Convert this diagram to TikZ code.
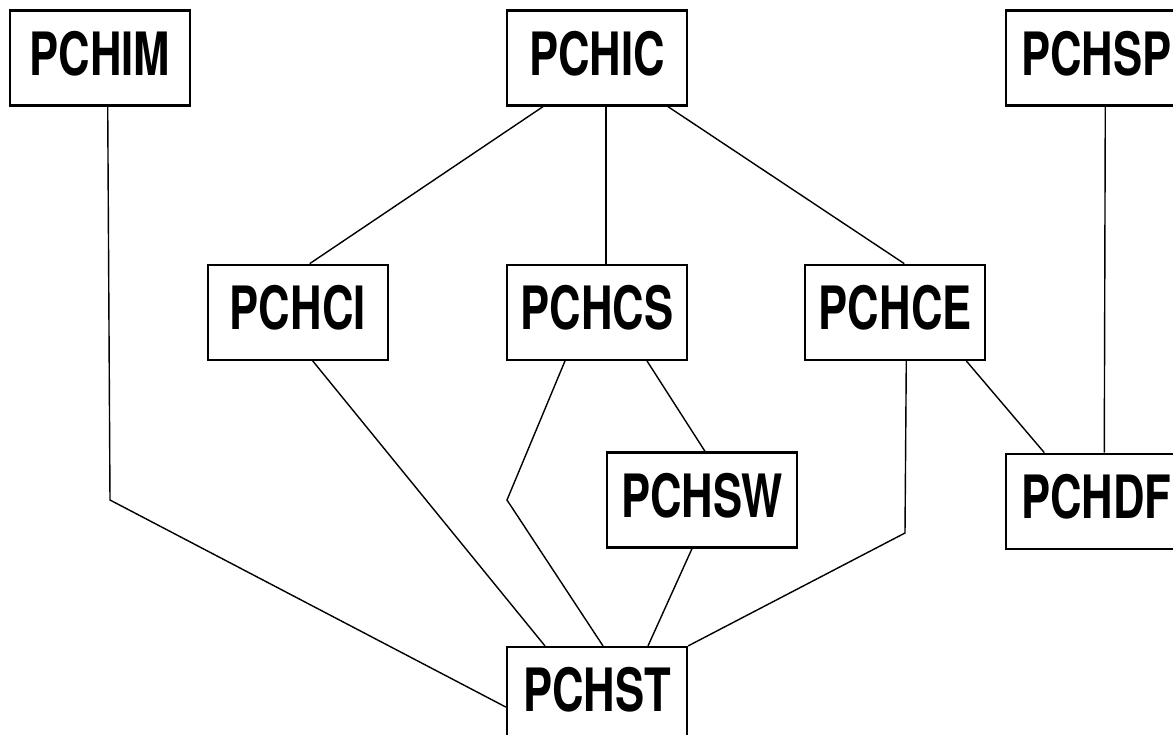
\documentclass[tikz,border=0pt]{standalone}
\usepackage{fontspec}
\setmainfont{TeX Gyre Heros}[FakeStretch=0.73]
\usepackage{tikz}
\usetikzlibrary{positioning}

\begin{document}
\begin{tikzpicture}[node distance=2.3cm,
  module/.style={draw,line width=1.3pt,minimum width=3.6cm,minimum height=1.9cm,
    inner sep=0pt,text depth=0.2cm,font=\fontsize{34}{36}\selectfont\bfseries},
  link/.style={line width=0.8pt}]
 \useasboundingbox (0,0) rectangle (23.46,-14.7);
 \node[module] (PCHIC) at (11.94,-1.16) {PCHIC};
 \node[module] (PCHIM) [left=6.3cm of PCHIC] {PCHIM};
 \node[module] (PCHSP) [right=6.34cm of PCHIC] {PCHSP};

 \node[module] (PCHCS) [below=3.14cm of PCHIC] {PCHCS};
 \node[module] (PCHCI) [left=2.34cm of PCHCS] {PCHCI};
 \node[module] (PCHCE) [right=2.32cm of PCHCS] {PCHCE};

 \node[module,minimum width=3.8cm] (PCHSW) at (14.04,-10.0) {PCHSW};
 \node[module] (PCHDF) [below=6.92cm of PCHSP] {PCHDF};

 \node[module] (PCHST) [below=5.7cm of PCHCS] {PCHST};

 \coordinate (imbend) at (2.2,-10.0);
 \coordinate (csbend) at (10.14,-10.0);
 \coordinate (cebend) at (18.1,-10.66);

 \draw[link] ([xshift=0.16cm]PCHIM.south) -- (imbend) -- ([yshift=-0.25cm]PCHST.west);
 \draw[link] ([xshift=-1.08cm]PCHIC.south) -- ([xshift=0.24cm]PCHCI.north);
 \draw[link] ([xshift=0.18cm]PCHIC.south) -- ([xshift=0.18cm]PCHCS.north);
 \draw[link] ([xshift=1.42cm]PCHIC.south) -- ([xshift=0.18cm]PCHCE.north);
 \draw[link] ([xshift=0.3cm]PCHCI.south) -- ([xshift=-1.04cm]PCHST.north);
 \draw[link] ([xshift=-0.64cm]PCHCS.south) -- (csbend) -- ([xshift=0.12cm]PCHST.north);
 \draw[link] ([xshift=1.0cm]PCHCS.south) -- ([xshift=0.06cm]PCHSW.north);
 \draw[link] ([xshift=-0.2cm]PCHSW.south) -- ([xshift=1.02cm]PCHST.north);
 \draw[link] ([xshift=0.22cm]PCHCE.south) -- (cebend) -- (PCHST.north east);
 \draw[link] ([xshift=1.42cm]PCHCE.south) -- ([xshift=-1.04cm]PCHDF.north);
 \draw[link] ([xshift=0.18cm]PCHSP.south) -- ([xshift=0.16cm]PCHDF.north);
\end{tikzpicture}
\end{document}
